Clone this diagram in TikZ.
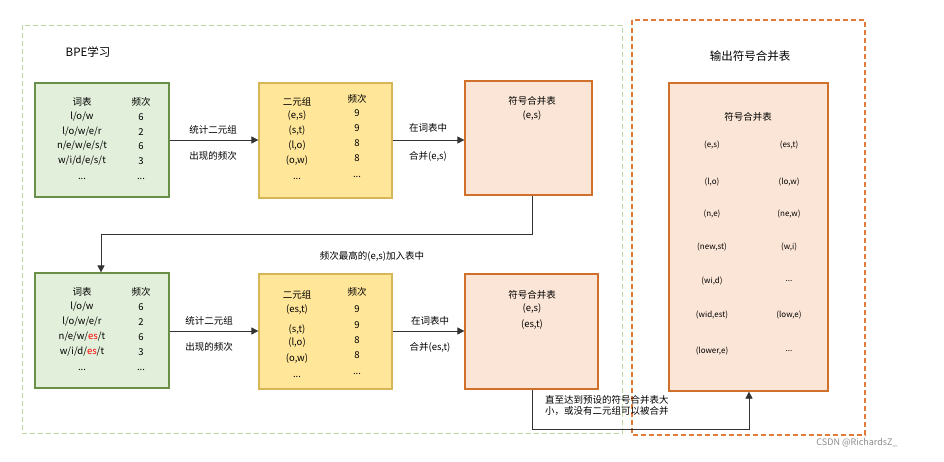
\documentclass[tikz,border=0pt]{standalone}
\usepackage{fontspec}
\setmainfont{Noto Sans CJK SC}
\usetikzlibrary{arrows.meta}
\definecolor{gfill}{HTML}{E2EFDA}\definecolor{gline}{HTML}{6A8F47}
\definecolor{yfill}{HTML}{FFE699}\definecolor{yline}{HTML}{D6B656}
\definecolor{ofill}{HTML}{FBE5D6}\definecolor{oline}{HTML}{D0702B}
\definecolor{gdash}{HTML}{B9D9A0}\definecolor{odash}{HTML}{E07B39}
\begin{document}
\begin{tikzpicture}[x=1pt,y=-1pt,
 t/.style={inner sep=0pt,font=\fontsize{9.5}{11}\selectfont},
 s/.style={inner sep=0pt,font=\fontsize{8}{10}\selectfont},
 gbox/.style={draw=gline,fill=gfill,line width=1.2pt},
 ybox/.style={draw=yline,fill=yfill,line width=1.2pt},
 obox/.style={draw=oline,fill=ofill,line width=1.2pt},
 arr/.style={draw=black!80,line width=0.7pt,-{Triangle[length=7pt,width=7pt]}}]
\useasboundingbox[fill=white] (0,0) rectangle (944,461);
\draw[gdash,dash pattern=on 5pt off 3pt,line width=0.9pt] (22,25) rectangle (622,433);
\draw[odash,dash pattern=on 5pt off 3pt,line width=1.1pt] (632,20) rectangle (865,435);
\node[inner sep=0pt,font=\fontsize{11.5}{13}\selectfont] (t1) at (88,52) {BPE学习};
\node[inner sep=0pt,font=\fontsize{11.5}{13}\selectfont] (t2) at (750,56) {输出符号合并表};
% row 1
\node[gbox,minimum width=134pt,minimum height=114pt] (a1) at (102,140) {};
\node[ybox,minimum width=133pt,minimum height=115pt] (b1) at (325.5,140.5) {};
\node[obox,minimum width=127pt,minimum height=114pt] (c1) at (528.5,138) {};
\node[t] at (82,102) {词表}; \node[t] at (141,102) {频次};
\node[t] at (82,117) {l/o/w}; \node[t] at (141,117) {6};
\node[t] at (82,132) {l/o/w/e/r}; \node[t] at (141,132) {2};
\node[t] at (82,146) {n/e/w/e/s/t}; \node[t] at (141,146) {6};
\node[t] at (82,161) {w/i/d/e/s/t}; \node[t] at (141,161) {3};
\node[t] at (82,179) {...}; \node[t] at (141,179) {...};
\node[t] at (297,102) {二元组}; \node[t] at (357,99) {频次};
\node[t] at (297,116) {(e,s)}; \node[t] at (357,113) {9};
\node[t] at (297,131) {(s,t)}; \node[t] at (357,128) {9};
\node[t] at (297,146) {(l,o)}; \node[t] at (357,143) {8};
\node[t] at (297,161) {(o,w)}; \node[t] at (357,158) {8};
\node[t] at (297,179) {...}; \node[t] at (357,177) {...};
\node[t] at (532,101) {符号合并表}; \node[t] at (532,116) {(e,s)};
\draw[arr] (a1.east |- 0,140) -- (b1.west |- 0,140);
\draw[arr] (b1.east |- 0,140) -- (c1.west |- 0,140);
\node[t] at (213,130) {统计二元组}; \node[t] at (213,156) {出现的频次};
\node[t] at (428,128) {在词表中}; \node[t] at (428,156) {合并(e,s)};
% row 2
\node[gbox,minimum width=134pt,minimum height=115pt] (a2) at (102,330.5) {};
\node[ybox,minimum width=133pt,minimum height=115pt] (b2) at (325.5,331.5) {};
\node[obox,minimum width=133pt,minimum height=115pt] (c2) at (531.5,331.5) {};
\node[t] at (82,292) {词表}; \node[t] at (141,292) {频次};
\node[t] at (82,307) {l/o/w}; \node[t] at (141,307) {6};
\node[t] at (82,322) {l/o/w/e/r}; \node[t] at (141,322) {2};
\node[t] at (82,337) {n/e/w/\textcolor{red}{es}/t}; \node[t] at (141,337) {6};
\node[t] at (82,352) {w/i/d/\textcolor{red}{es}/t}; \node[t] at (141,352) {3};
\node[t] at (82,370) {...}; \node[t] at (141,370) {...};
\node[t] at (297,295) {二元组}; \node[t] at (357,292) {频次};
\node[t] at (297,310) {(es,t)}; \node[t] at (357,309) {9};
\node[t] at (297,330) {(s,t)}; \node[t] at (357,325) {9};
\node[t] at (297,343) {(l,o)}; \node[t] at (357,340) {8};
\node[t] at (297,359) {(o,w)}; \node[t] at (357,355) {8};
\node[t] at (297,377) {...}; \node[t] at (357,374) {...};
\node[t] at (532,295) {符号合并表}; \node[t] at (532,309) {(e,s)}; \node[t] at (532,325) {(es,t)};
\draw[arr] (a2.east |- 0,331) -- (b2.west |- 0,331);
\draw[arr] (b2.east |- 0,331) -- (c2.west |- 0,331);
\node[t] at (209,321) {统计二元组}; \node[t] at (209,347) {出现的频次};
\node[t] at (430,321) {在词表中}; \node[t] at (430,347) {合并(es,t)};
% right box
\node[obox,minimum width=159pt,minimum height=308pt] (d) at (748.5,237) {};
\node[t] at (748,117) {符号合并表};
\node[s] at (712,145) {(e,s)}; \node[s] at (789,145) {(es,t)};
\node[s] at (712,182) {(l,o)}; \node[s] at (789,182) {(lo,w)};
\node[s] at (712,214) {(n,e)}; \node[s] at (789,214) {(ne,w)};
\node[s] at (712,247) {(new,st)}; \node[s] at (789,247) {(w,i)};
\node[s] at (712,281) {(wi,d)}; \node[s] at (789,281) {...};
\node[s] at (712,315) {(wid,est)}; \node[s] at (789,315) {(low,e)};
\node[s] at (712,351) {(lower,e)}; \node[s] at (789,351) {...};
% connectors
\coordinate (k1) at (532,234); \coordinate (k2) at (101,234);
\draw[arr] (c1.south -| k1) -- (k1) -- (k2) -- (a2.north -| k2);
\node[t] (lab1) at (372,256) {频次最高的(e,s)加入表中};
\coordinate (m1) at (532,429); \coordinate (m2) at (749,429);
\draw[arr] (c2.south -| m1) -- (m1) -- (m2) -- (d.south -| m2);
\node[t,align=left,anchor=north west] (lab2) at (545,395) {直至达到预设的符号合并表大\\小，或没有二元组可以被合并};
\node[inner sep=0pt,text=black!45,font=\fontsize{9}{10}\selectfont] (wm) at (857,443) {CSDN @RichardsZ\_};
\end{tikzpicture}
\end{document}
